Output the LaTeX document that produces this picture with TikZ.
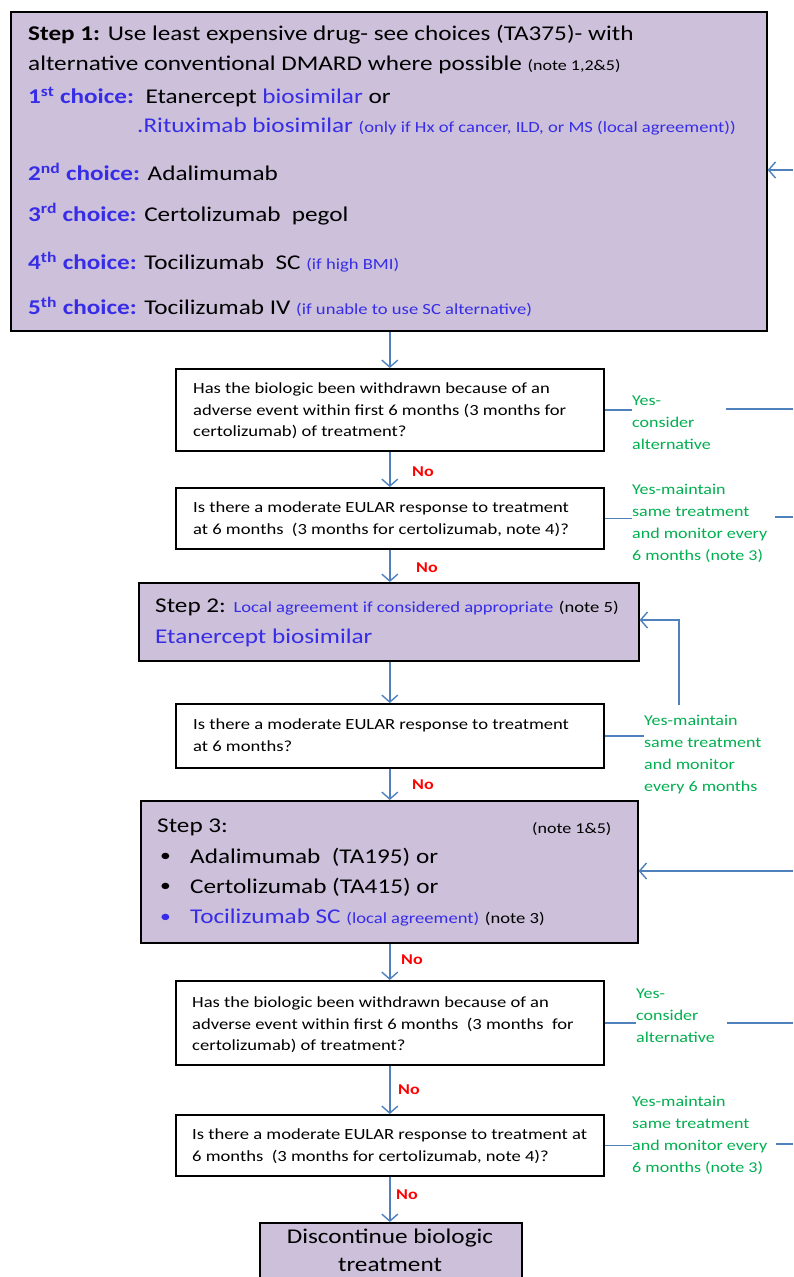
\documentclass[tikz,border=0pt]{standalone}
\usepackage{fontspec}
\setmainfont{Carlito}[FakeStretch=1.2]
\usetikzlibrary{arrows.meta}
\definecolor{boxfill}{RGB}{204,192,218}
\definecolor{txtblue}{RGB}{55,45,230}
\definecolor{txtgreen}{RGB}{0,176,80}
\definecolor{arrblue}{RGB}{79,129,189}
\definecolor{txtred}{RGB}{255,0,0}
\newcommand\fsz[2]{\fontsize{#1}{#2}\selectfont}
\begin{document}
\begin{tikzpicture}[x=1pt,y=-1pt,
  stepbox/.style={draw=black,line width=1.6pt,fill=boxfill,anchor=north west,inner sep=0pt},
  qbox/.style={draw=black,line width=1.6pt,fill=white,anchor=north west,inner sep=0pt},
  flow/.style={draw=arrblue,line width=1.4pt,-{Straight Barb[length=7pt,width=16pt,line width=1.4pt]}},
  link/.style={draw=arrblue,line width=1.4pt},
  lbl/.style={anchor=west,inner sep=0pt},
  qtxt/.style={anchor=north west,inner sep=0pt,align=left,font=\fsz{15.5}{21.5}},
  gtxt/.style={anchor=north west,inner sep=0pt,align=left,text=txtgreen,font=\fsz{15}{22}},
  nolbl/.style={anchor=west,inner sep=0pt,text=txtred,font=\fsz{15}{18}\bfseries},
]
\useasboundingbox (0,0) rectangle (793,1277);
\clip (0,0) rectangle (793,1277);
\fill[white] (0,0) rectangle (793,1277);

% ---------- Step 1 ----------
\node[stepbox,minimum width=756pt,minimum height=319pt] (s1) at (10,11) {};
\node[lbl] (s1l1) at (28,35) {\fsz{21}{24}{\bfseries Step 1:} Use least expensive drug- see choices (TA375)- with};
\node[lbl] (s1l2) at (28,65) {\fsz{21}{24}alternative conventional DMARD where possible {\fsz{15}{17}(note 1,2\&5)}};
\node[lbl] (s1l3) at (28,97) {\fsz{21}{24}\textcolor{txtblue}{\bfseries 1\textsuperscript{st} choice:}\ \ Etanercept \textcolor{txtblue}{biosimilar} or};
\node[lbl,text=txtblue] (s1l4) at (137,127) {\fsz{21}{24}.Rituximab biosimilar {\fsz{15.5}{17}(only if Hx of cancer, ILD, or MS (local agreement))}};
\node[lbl] (s1l5) at (28,172) {\fsz{21}{24}\textcolor{txtblue}{\bfseries 2\textsuperscript{nd} choice:} Adalimumab};
\node[lbl] (s1l6) at (28,214) {\fsz{21}{24}\textcolor{txtblue}{\bfseries 3\textsuperscript{rd} choice:} Certolizumab\ \ pegol};
\node[lbl] (s1l7) at (28,262) {\fsz{21}{24}\textcolor{txtblue}{\bfseries 4\textsuperscript{th} choice:} Tocilizumab\ \ SC \textcolor{txtblue}{\fsz{15.5}{17}(if high BMI)}};
\node[lbl] (s1l8) at (28,307) {\fsz{21}{24}\textcolor{txtblue}{\bfseries 5\textsuperscript{th} choice:} Tocilizumab IV \textcolor{txtblue}{\fsz{15.5}{17}(if unable to use SC alternative)}};

% ---------- Question 1 ----------
\node[qbox,minimum width=428pt,minimum height=82pt] (q1) at (175,368) {};
\node[qtxt] (q1t) at (193,383) {Has the biologic been withdrawn because of an\\adverse event within first 6 months (3 months for\\certolizumab) of treatment?};
\node[gtxt] (g1) at (632,396) {Yes-\\consider\\alternative};
\node[nolbl] (n1) at (412,472) {No};

% ---------- Question 2 ----------
\node[qbox,minimum width=428pt,minimum height=61pt] (q2) at (175,487) {};
\node[qtxt] (q2t) at (193,502) {Is there a moderate EULAR response to treatment\\at 6 months\ \ (3 months for certolizumab, note 4)?};
\node[gtxt] (g2) at (632,484) {Yes-maintain\\same treatment\\and monitor every\\6 months (note 3)};
\node[nolbl] (n2) at (416,568) {No};

% ---------- Step 2 ----------
\node[stepbox,minimum width=500pt,minimum height=78pt] (s2) at (138,582) {};
\node[lbl] (s2l1) at (155,607) {\fsz{21}{24}Step 2: \textcolor{txtblue}{\fsz{15.5}{18}Local agreement if considered appropriate} {\fsz{15.5}{18}(note 5)}};
\node[lbl,text=txtblue] (s2l2) at (155,638) {\fsz{21}{24}Etanercept biosimilar};

% ---------- Question 3 ----------
\node[qbox,minimum width=428pt,minimum height=64pt] (q3) at (175,703) {};
\node[qtxt] (q3t) at (193,719) {Is there a moderate EULAR response to treatment\\at 6 months?};
\node[gtxt] (g3) at (644,715) {Yes-maintain\\same treatment\\and monitor\\every 6 months};
\node[nolbl] (n3) at (412,785) {No};

% ---------- Step 3 ----------
\node[stepbox,minimum width=497pt,minimum height=142pt] (s3) at (140,800) {};
\node[lbl] (s3l1) at (157,827) {\fsz{21}{24}Step 3:};
\node[lbl] (s3n) at (532,829) {\fsz{15}{17}(note 1\&5)};
\node[lbl] (s3b1) at (160,857) {\fsz{18}{24}\textbullet};
\node[lbl] (s3l2) at (190,857) {\fsz{21}{24}Adalimumab\ \ (TA195) or};
\node[lbl] (s3b2) at (160,887) {\fsz{18}{24}\textbullet};
\node[lbl] (s3l3) at (190,887) {\fsz{21}{24}Certolizumab (TA415) or};
\node[lbl,text=txtblue] (s3b3) at (160,918) {\fsz{18}{24}\textbullet};
\node[lbl] (s3l4) at (190,918) {\fsz{21}{24}\textcolor{txtblue}{Tocilizumab SC {\fsz{15.5}{17}(local agreement)}} {\fsz{15.5}{17}(note 3)}};
\node[nolbl] (n4) at (401,960) {No};

% ---------- Question 4 ----------
\node[qbox,minimum width=428pt,minimum height=84pt] (q4) at (175,980) {};
\node[qtxt] (q4t) at (192,997) {Has the biologic been withdrawn because of an\\adverse event within first 6 months\ \ (3 months\ \ for\\certolizumab) of treatment?};
\node[gtxt] (g4) at (636,989) {Yes-\\consider\\alternative};
\node[nolbl] (n5) at (398,1090) {No};

% ---------- Question 5 ----------
\node[qbox,minimum width=428pt,minimum height=61pt] (q5) at (175,1114) {};
\node[qtxt] (q5t) at (192,1129) {Is there a moderate EULAR response to treatment at\\6 months\ \ (3 months for certolizumab, note 4)?};
\node[gtxt] (g5) at (632,1096) {Yes-maintain\\same treatment\\and monitor every\\6 months (note 3)};
\node[nolbl] (n6) at (396,1195) {No};

% ---------- Discontinue ----------
\node[stepbox,minimum width=262pt,minimum height=80pt] (dc) at (259,1222) {};
\node[anchor=north,inner sep=0pt,align=center,font=\fsz{21}{28}] (dct) at (390,1229) {Discontinue biologic\\treatment};

% ---------- Connectors ----------
\draw[flow] (s1.south -| q1.north) -- (q1.north);
\draw[flow] (q1.south) -- (q2.north);
\draw[flow] (q2.south) -- (q2.south |- s2.north);
\draw[flow] (s2.south -| q3.north) -- (q3.north);
\draw[flow] (q3.south) -- (q3.south |- s3.north);
\draw[flow] (s3.south -| q4.north) -- (q4.north);
\draw[flow] (q4.south) -- (q5.north);
\draw[flow] (q5.south) -- (q5.south |- dc.north);

% right-hand returns
\coordinate (e0) at (793,170);
\draw[flow] (e0) -- (s1.east |- e0);

\draw[link] (q1.east) -- (q1.east -| g1.west);
\coordinate (r1a) at (726,409);
\coordinate (r1b) at (793,409);
\draw[link] (r1a) -- (r1b);

\draw[link] (q2.east) -- (q2.east -| g2.west);
\coordinate (r2a) at (775,517);
\coordinate (r2b) at (793,517);
\draw[link] (r2a) -- (r2b);

\draw[link] (q3.east) -- (q3.east -| g3.west);
\coordinate (c3a) at (679,705);
\coordinate (c3b) at (679,620);
\draw[flow] (c3a) -- (c3b) -- (s2.east |- c3b);

\coordinate (e3) at (793,871);
\draw[flow] (e3) -- (s3.east |- e3);

\draw[link] (q4.east) -- (q4.east -| g4.west);
\coordinate (r4a) at (727,1023);
\coordinate (r4b) at (793,1023);
\draw[link] (r4a) -- (r4b);

\draw[link] (q5.east) -- (q5.east -| g5.west);
\coordinate (r5a) at (776,1144);
\coordinate (r5b) at (793,1144);
\draw[link] (r5a) -- (r5b);
\end{tikzpicture}
\end{document}
